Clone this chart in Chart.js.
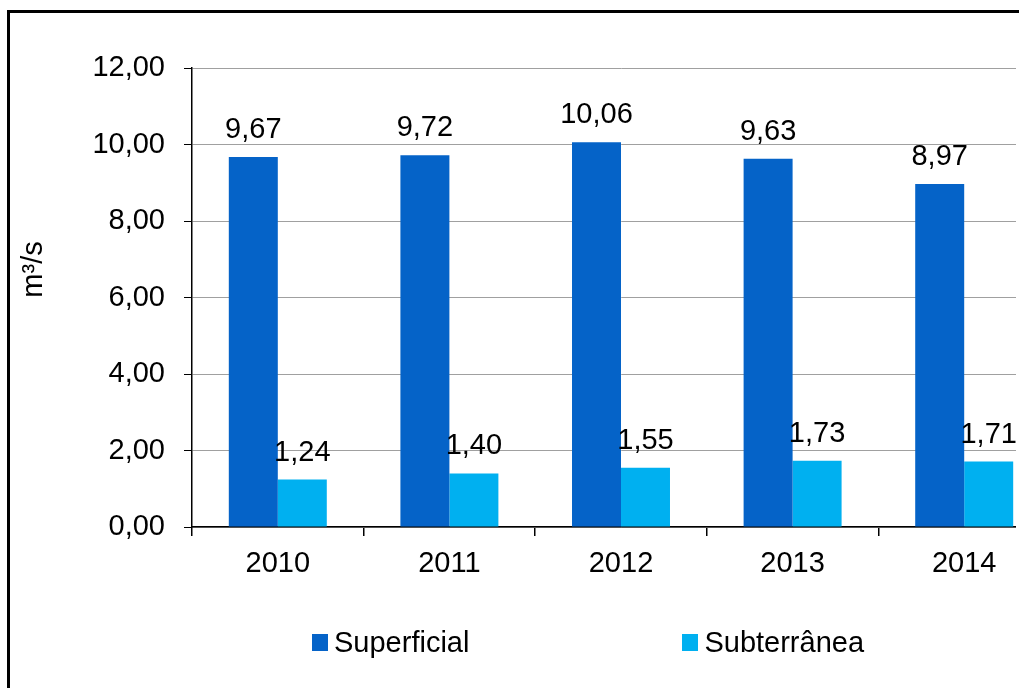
<!DOCTYPE html>
<html>
<head>
<meta charset="utf-8">
<script src="https://cdn.jsdelivr.net/npm/chart.js@4.4.1/dist/chart.umd.min.js"></script>
<style>
  body { margin: 0; background: #fff; overflow: hidden; font-family: "Liberation Sans", Arial, sans-serif; }
  #frame { position: absolute; left: 7px; top: 10px; width: 1100px; height: 800px; border: 3px solid #000; }
  #clip { position: absolute; left: 0; top: 0; width: 1016px; height: 688px; overflow: hidden; }
  #legend { position: absolute; left: 312px; top: 628px; display: flex; gap: 213px; }
  .item { display: flex; align-items: center; font-size: 29px; line-height: 28px; color: #000; }
  .swatch { width: 16px; height: 17px; margin-right: 6px; }
</style>
</head>
<body>
<div id="frame"></div>
<div id="clip"><canvas id="chart" width="1060" height="688"></canvas></div>
<div id="legend"></div>
<script>
// Values (m3/s)
const years = ["2010", "2011", "2012", "2013", "2014"];
const superficial = [9.67, 9.72, 10.06, 9.63, 8.97];
const subterranea = [1.24, 1.40, 1.55, 1.73, 1.71];
const yTitle = "m³/s";

const FONT = "'Liberation Sans', Arial, sans-serif";

// Brazilian number format, two decimals with comma
function fmt(v) {
  return v.toFixed(2).replace(".", ",");
}

// Draws the value above each bar
const valueLabels = {
  id: "valueLabels",
  afterDatasetsDraw(chart) {
    const ctx = chart.ctx;
    ctx.save();
    ctx.font = "29px " + FONT;
    ctx.fillStyle = "#000";
    ctx.textAlign = "center";
    ctx.textBaseline = "alphabetic";
    chart.data.datasets.forEach((ds, i) => {
      chart.getDatasetMeta(i).data.forEach((bar, j) => {
        ctx.fillText(fmt(ds.data[j]), bar.x, bar.y - 19);
      });
    });
    ctx.restore();
  },
};

// Y axis title, a bit above the middle of the axis like the original
const axisTitle = {
  id: "axisTitle",
  afterDraw(chart) {
    const ctx = chart.ctx;
    const area = chart.chartArea;
    ctx.save();
    ctx.font = "29px " + FONT;
    ctx.fillStyle = "#000";
    ctx.textAlign = "center";
    ctx.textBaseline = "alphabetic";
    ctx.translate(42, (area.top + area.bottom) / 2 - 28);
    ctx.rotate(-Math.PI / 2);
    ctx.fillText(yTitle, 0, 0);
    ctx.restore();
  },
};

// HTML legend built from the datasets
const htmlLegend = {
  id: "htmlLegend",
  afterUpdate(chart) {
    const box = document.getElementById("legend");
    box.innerHTML = "";
    chart.data.datasets.forEach((ds) => {
      const item = document.createElement("div");
      item.className = "item";
      const sw = document.createElement("span");
      sw.className = "swatch";
      sw.style.background = ds.backgroundColor;
      const txt = document.createElement("span");
      txt.textContent = ds.label;
      item.appendChild(sw);
      item.appendChild(txt);
      box.appendChild(item);
    });
  },
};

new Chart(document.getElementById("chart"), {
  type: "bar",
  data: {
    labels: years,
    datasets: [
      {
        label: "Superficial",
        data: superficial,
        backgroundColor: "#0563C8",
        categoryPercentage: 0.571,
        barPercentage: 1,
      },
      {
        label: "Subterrânea",
        data: subterranea,
        backgroundColor: "#00B0F0",
        categoryPercentage: 0.571,
        barPercentage: 1,
      },
    ],
  },
  plugins: [valueLabels, axisTitle, htmlLegend],
  options: {
    responsive: false,
    animation: false,
    layout: { padding: { top: 68, right: 10, bottom: 0, left: 0 } },
    plugins: {
      legend: { display: false },
      tooltip: { enabled: false },
    },
    scales: {
      x: {
        afterFit(scale) { scale.height = 161; },
        grid: { drawOnChartArea: false, offset: true, tickLength: 9, tickColor: "#000", lineWidth: 1.5 },
        border: { color: "#000", width: 1.5 },
        ticks: { color: "#000", padding: 11, font: { family: FONT, size: 29 } },
      },
      y: {
        min: 0,
        max: 12,
        afterFit(scale) { scale.width = 192; },
        grid: { color: "#a0a0a0", lineWidth: 1, tickLength: 8, tickColor: "#000" },
        border: { color: "#000", width: 1.5 },
        ticks: {
          stepSize: 2,
          color: "#000",
          padding: 19,
          font: { family: FONT, size: 29 },
          callback: (v) => fmt(v),
        },
      },
    },
  },
});
</script>
</body>
</html>
